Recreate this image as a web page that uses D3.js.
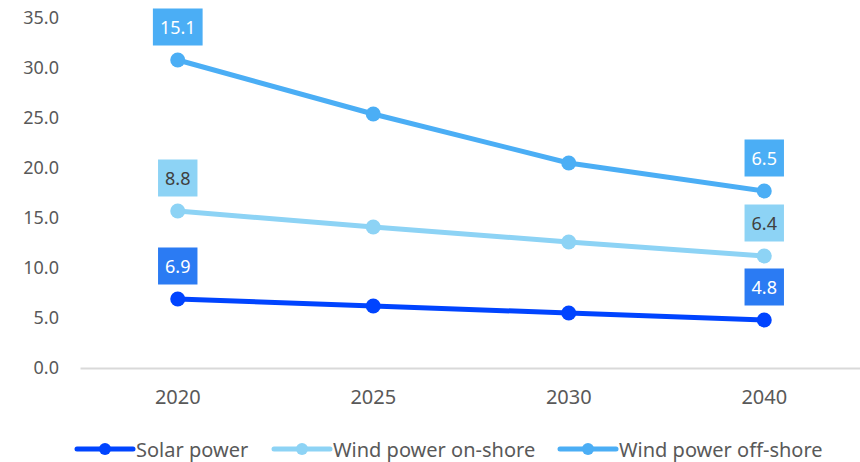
<!DOCTYPE html>
<html>
<head>
<meta charset="utf-8">
<script src="https://cdn.jsdelivr.net/npm/d3@7"></script>
<style>
  html, body { margin: 0; padding: 0; background: #fff; }
  svg { display: block; font-family: "Noto Sans", sans-serif; }
</style>
</head>
<body>
<svg id="chart" width="860" height="462"></svg>
<script>
// Generation cost by source, stacked line chart
const years = ["2020", "2025", "2030", "2040"];
const solar = [6.9, 6.2, 5.5, 4.8];
const windOnshore = [8.8, 7.9, 7.1, 6.4];
const windOffshore = [15.1, 11.3, 7.9, 6.5];
const seriesNames = ["Solar power", "Wind power on-shore", "Wind power off-shore"];
const yTicks = [0, 5, 10, 15, 20, 25, 30, 35];

const lineColors = ["#0044ff", "#8dd3f5", "#4baef5"];
const boxColors = ["#2b7bf3", "#8dd3f5", "#4baef5"];
const boxText = ["#ffffff", "#404040", "#ffffff"];

const svg = d3.select("#chart");
const x = d3.scaleBand().domain(years).range([80, 862]);
const y = d3.scaleLinear().domain([0, 35]).range([368, 18]);

// stack the three series
const rows = years.map((yr, i) => ({ year: yr, s0: solar[i], s1: windOnshore[i], s2: windOffshore[i] }));
const stacked = d3.stack().keys(["s0", "s1", "s2"])(rows);

// y axis labels
const yAxis = svg.append("g").attr("transform", "translate(59,0)")
  .call(d3.axisLeft(y).tickValues(yTicks).tickFormat(d3.format(".1f")).tickSize(0).tickPadding(0));
yAxis.select(".domain").remove();
yAxis.selectAll("text").attr("font-size", 18).attr("fill", "#595959").attr("font-family", "Noto Sans, sans-serif");

// x axis
const xAxis = svg.append("g").attr("transform", "translate(0,368)")
  .call(d3.axisBottom(x).tickSize(0).tickPadding(22));
xAxis.select(".domain").attr("stroke", "#d9d9d9").attr("stroke-width", 2);
xAxis.selectAll("text").attr("font-size", 20).attr("fill", "#595959").attr("font-family", "Noto Sans, sans-serif");

const cx = d => x(d.data.year) + x.bandwidth() / 2;
const line = d3.line().x(cx).y(d => y(d[1]));

stacked.forEach((layer, k) => {
  const g = svg.append("g");
  g.append("path").datum(layer)
    .attr("d", line).attr("fill", "none")
    .attr("stroke", lineColors[k]).attr("stroke-width", 5).attr("stroke-linejoin", "round");
  g.selectAll("circle").data(layer).join("circle")
    .attr("cx", cx).attr("cy", d => y(d[1])).attr("r", 7.5)
    .attr("fill", lineColors[k]);

  // value labels on the first and last points
  const ends = [layer[0], layer[layer.length - 1]];
  ends.forEach(d => {
    const val = d[1] - d[0];
    const px = cx(d), py = y(d[1]) - 33;
    const lg = g.append("g");
    const t = lg.append("text").attr("x", px).attr("y", py)
      .attr("text-anchor", "middle").attr("dominant-baseline", "central")
      .attr("font-size", 18).attr("fill", boxText[k])
      .text(d3.format(".1f")(val));
    const w = t.node().getComputedTextLength() + 14;
    lg.insert("rect", "text").attr("x", px - w / 2).attr("y", py - 18.5)
      .attr("width", w).attr("height", 37).attr("fill", boxColors[k]);
  });
});

// legend
const legendX = [77, 274, 560];
const lg = svg.append("g").attr("transform", "translate(0,449)");
seriesNames.forEach((name, k) => {
  const g = lg.append("g").attr("transform", `translate(${legendX[k]},0)`);
  g.append("line").attr("x1", 0).attr("x2", 56).attr("stroke", lineColors[k])
    .attr("stroke-width", 5).attr("stroke-linecap", "round");
  g.append("circle").attr("cx", 28).attr("r", 6).attr("fill", lineColors[k]);
  g.append("text").attr("x", 59).attr("dominant-baseline", "central")
    .attr("font-size", 20).attr("fill", "#595959").text(name);
});
</script>
</body>
</html>
